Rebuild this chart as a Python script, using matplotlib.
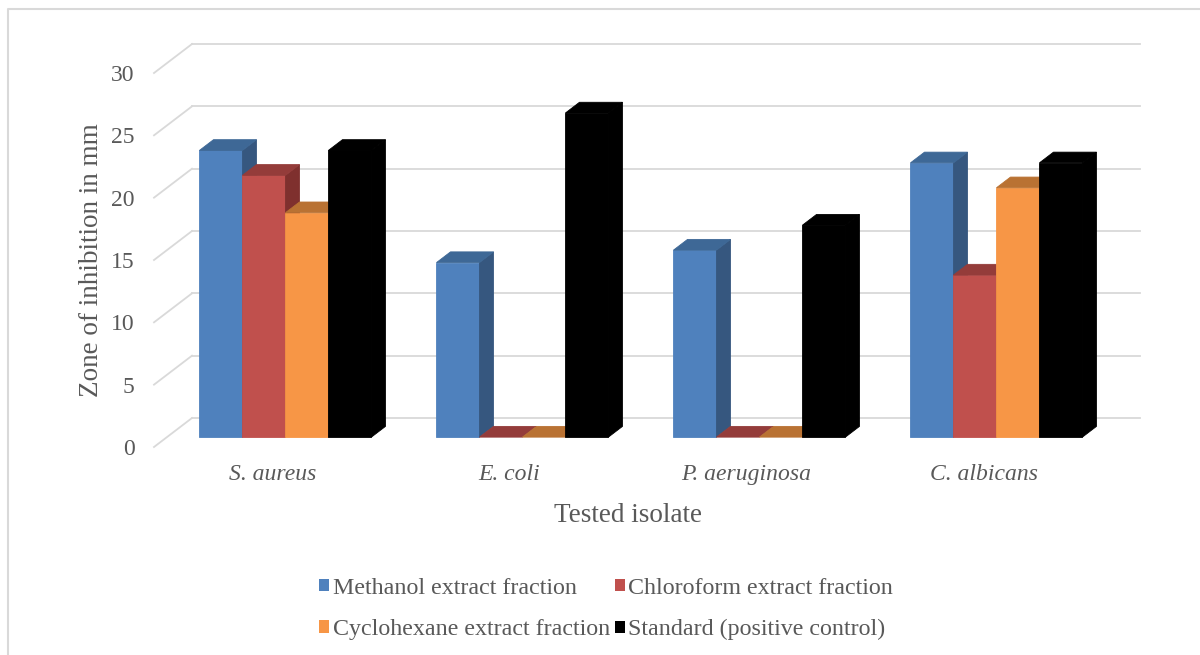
import numpy as np
import matplotlib
matplotlib.use('Agg')
import matplotlib.pyplot as plt
from matplotlib.patches import Polygon, Patch
from matplotlib.lines import Line2D

# Dati (zona di inibizione in mm)
isolates = ['S. aureus', 'E. coli', 'P. aeruginosa', 'C. albicans']
series = ['Methanol extract fraction', 'Chloroform extract fraction',
          'Cyclohexane extract fraction', 'Standard (positive control)']
methanol = [23, 14, 15, 22]
chloroform = [21, 0, 0, 13]
cyclohexane = [18, 0, 0, 20]
standard = [23, 26, 17, 22]
yticks = [0, 5, 10, 15, 20, 25, 30]

values = [methanol, chloroform, cyclohexane, standard]

# colori: fronte, lato, sopra
front_cols = ['#4F81BD', '#C0504D', '#F79646', '#000000']
side_cols = ['#36577F', '#7F302E', '#A8652C', '#000000']
top_cols = ['#3E6896', '#943C3A', '#B97233', '#000000']

text_col = '#595959'
grid_col = '#D9D9D9'
plt.rcParams['font.family'] = ['Liberation Serif', 'DejaVu Serif']

W, H = 1200, 655
fig = plt.figure(figsize=(W / 100, H / 100), dpi=100)
ax = fig.add_axes([154 / W, 1 - 447 / H, 948 / W, 374 / H])
ax.set_xlim(0, 4)
ax.set_ylim(0, 30)
for s in ax.spines.values():
    s.set_visible(False)

# proiezione obliqua (profondità)
DX = 38 / 237.0
DY = 29 / (374 / 30.0)
f0, f1 = 0.34, 0.71

# griglia: parete di fondo + parete laterale
for yv in yticks:
    ax.add_line(Line2D([0, DX], [yv, yv + DY], color=grid_col, lw=1.3, clip_on=False, zorder=0))
    ax.add_line(Line2D([DX, 4 + DX], [yv + DY, yv + DY], color=grid_col, lw=1.3, clip_on=False, zorder=0))

bw = 0.1814
gstart = (1 - 4 * bw) / 2
z = 2
for c in range(len(isolates)):
    for i in range(len(series)):
        v = values[i][c]
        x0 = c + gstart + i * bw + f0 * DX
        x1 = x0 + bw
        y0 = f0 * DY
        y1 = v + f0 * DY
        ddx = (f1 - f0) * DX
        ddy = (f1 - f0) * DY
        if v > 0:
            ax.add_patch(Polygon([[x0, y0], [x1, y0], [x1, y1], [x0, y1]], closed=True,
                                 fc=front_cols[i], ec=front_cols[i], lw=0.6, zorder=z, clip_on=False))
            ax.add_patch(Polygon([[x1, y0], [x1 + ddx, y0 + ddy], [x1 + ddx, y1 + ddy], [x1, y1]],
                                 closed=True, fc=side_cols[i], ec=side_cols[i], lw=0.6, zorder=z, clip_on=False))
        ax.add_patch(Polygon([[x0, y1], [x1, y1], [x1 + ddx, y1 + ddy], [x0 + ddx, y1 + ddy]],
                             closed=True, fc=top_cols[i], ec=top_cols[i], lw=0.6, zorder=z, clip_on=False))
        z += 1

ax.set_yticks(yticks)
ax.set_yticklabels([str(t) for t in yticks])
ax.set_xticks(np.arange(len(isolates)) + 0.5)
ax.set_xticklabels(isolates, style='italic')
ax.tick_params(axis='y', length=0, pad=14, labelsize=17, labelcolor=text_col)
ax.tick_params(axis='x', length=0, pad=12, labelsize=17, labelcolor=text_col)

ax.set_ylabel('Zone of inhibition in mm', fontsize=19.5, color=text_col)
ax.yaxis.set_label_coords(-0.053, 0.5)
ax.set_xlabel('Tested isolate', fontsize=19.5, color=text_col, va='top')
ax.xaxis.set_label_coords(0.5, -0.15)

# legenda riga per riga (matplotlib riempie per colonne)
order = [0, 2, 1, 3]
handles = [Patch(fc=front_cols[i], ec='none') for i in order]
labels = [series[i] for i in order]
leg = fig.legend(handles, labels, loc='center', bbox_to_anchor=(606 / W, 1 - 609 / H),
                 ncol=2, frameon=False, fontsize=17.3, handlelength=0.42, handleheight=0.42,
                 handletextpad=0.15, columnspacing=0.2, labelspacing=0.85)
for t in leg.get_texts():
    t.set_color(text_col)

# bordo del grafico
fig.add_artist(Line2D([8 / W, 8 / W, 1], [0, 1 - 9 / H, 1 - 9 / H], color=grid_col, lw=1.5,
                      transform=fig.transFigure))

fig.savefig('out.png', dpi=100)
